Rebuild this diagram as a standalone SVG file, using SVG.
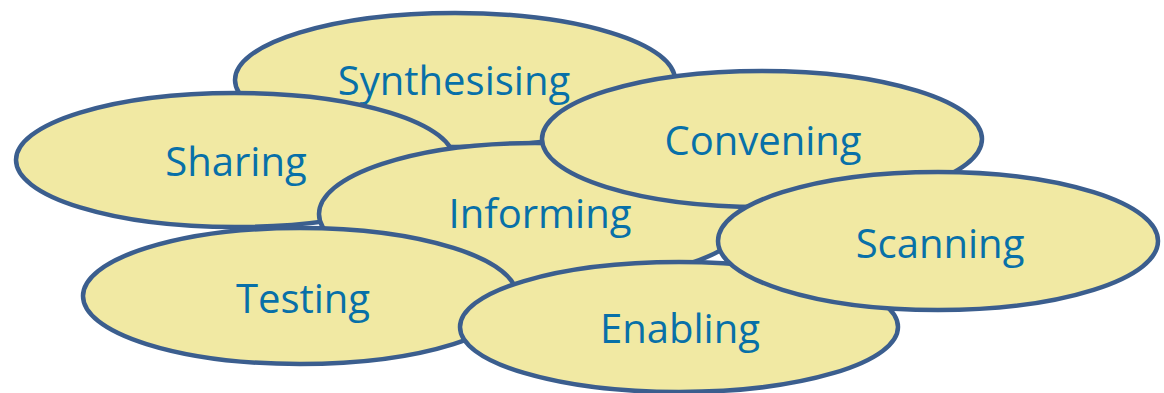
<svg xmlns="http://www.w3.org/2000/svg" width="1164" height="393" viewBox="0 0 1164 393">
<style>
.n ellipse{fill:#F1E9A3;stroke:#3B5E8E;stroke-width:4.5}
.n text{font-family:"Open Sans","Liberation Sans",sans-serif;font-size:40px;fill:#0870A8;text-anchor:middle}
</style>
<rect width="1164" height="393" fill="#FFFFFF"/>
<g id="connectors"/>
<g id="synthesising" class="n"><ellipse cx="455" cy="80" rx="220" ry="67"/><text x="454" y="95">Synthesising</text></g>
<g id="sharing" class="n"><ellipse cx="235" cy="160" rx="219" ry="67"/><text x="236" y="176">Sharing</text></g>
<g id="informing" class="n"><ellipse cx="535" cy="214" rx="216" ry="71"/><text x="540" y="228">Informing</text></g>
<g id="convening" class="n"><ellipse cx="762" cy="139" rx="220" ry="68"/><text x="763" y="155">Convening</text></g>
<g id="testing" class="n"><ellipse cx="300" cy="296" rx="217" ry="68"/><text x="303" y="313">Testing</text></g>
<g id="enabling" class="n"><ellipse cx="679" cy="327" rx="219" ry="65"/><text x="680" y="343">Enabling</text></g>
<g id="scanning" class="n"><ellipse cx="938" cy="241" rx="220" ry="69"/><text x="940" y="258">Scanning</text></g>
</svg>
